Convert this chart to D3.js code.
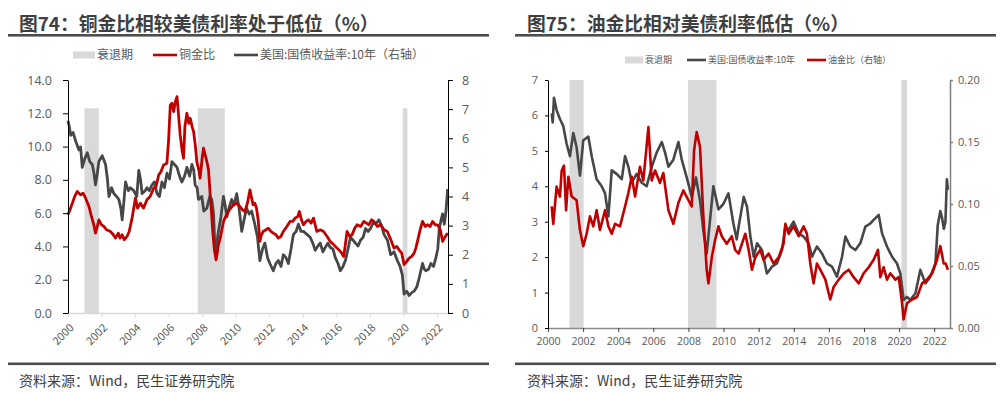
<!DOCTYPE html>
<html>
<head>
<meta charset="utf-8">
<script src="https://cdn.jsdelivr.net/npm/d3@7"></script>
<style>
  body { margin: 0; background: #fff; }
  svg { display: block; }
  text { font-family: "Noto Sans CJK SC", "Noto Sans", sans-serif; }
  .num text { font-family: "Open Sans", "Liberation Sans", sans-serif; }
</style>
</head>
<body>
<svg id="chart" width="1006" height="393"></svg>
<script>
// ---------- data: chart 74 ----------
const title74 = "图74：铜金比相较美债利率处于低位（%）";
const legend74 = ["衰退期", "铜金比", "美国:国债收益率:10年（右轴）"];
const recession74 = [[2000.98, 2001.84], [2007.74, 2009.35], [2019.96, 2020.24]];
const recessionTop74 = 12.3;   // left axis units
const yearTicks = [2000, 2002, 2004, 2006, 2008, 2010, 2012, 2014, 2016, 2018, 2020, 2022];

// copper / gold ratio (left axis)
const copperGold = [
  [2000.0, 5.9], [2000.12, 6.2], [2000.26, 6.6], [2000.4, 7.0], [2000.55, 7.3], [2000.75, 7.1],
  [2000.9, 7.2], [2001.05, 6.9], [2001.25, 6.4], [2001.4, 5.8], [2001.54, 5.3], [2001.64, 4.8],
  [2001.75, 5.2], [2001.84, 5.6], [2002.0, 5.3], [2002.14, 5.2], [2002.3, 5.0], [2002.53, 4.9],
  [2002.7, 4.7], [2002.83, 4.5], [2003.0, 4.8], [2003.1, 4.5], [2003.23, 4.7], [2003.35, 4.4],
  [2003.52, 4.6], [2003.65, 4.9], [2003.82, 5.7], [2004.02, 6.9], [2004.15, 6.3], [2004.32, 6.6],
  [2004.5, 6.3], [2004.71, 6.8], [2004.9, 7.0], [2005.11, 7.5], [2005.25, 7.6], [2005.41, 8.3],
  [2005.55, 8.5], [2005.7, 8.9], [2005.9, 9.0], [2006.0, 10.4], [2006.1, 12.5], [2006.2, 12.6],
  [2006.3, 12.1], [2006.4, 12.7], [2006.5, 13.0], [2006.6, 11.8], [2006.69, 10.7], [2006.8, 9.8],
  [2006.89, 9.3], [2006.97, 11.2], [2007.09, 12.0], [2007.2, 11.4], [2007.29, 11.7], [2007.4, 11.2],
  [2007.49, 10.9], [2007.6, 10.0], [2007.68, 9.1], [2007.8, 8.6], [2007.88, 8.1], [2008.0, 9.3],
  [2008.08, 9.9], [2008.18, 9.5], [2008.28, 9.1], [2008.38, 8.6], [2008.48, 7.1], [2008.56, 6.0],
  [2008.63, 4.9], [2008.73, 3.8], [2008.83, 3.2], [2008.9, 3.6], [2008.97, 4.1], [2009.1, 4.6],
  [2009.27, 5.5], [2009.4, 5.8], [2009.56, 6.1], [2009.7, 6.3], [2009.86, 6.5], [2010.05, 6.6],
  [2010.26, 6.4], [2010.4, 6.2], [2010.55, 6.1], [2010.7, 6.6], [2010.85, 7.4], [2010.95, 6.9],
  [2011.04, 6.5], [2011.14, 6.6], [2011.24, 6.3], [2011.34, 5.6], [2011.44, 4.3], [2011.54, 4.7],
  [2011.64, 4.9], [2011.8, 5.0], [2011.94, 5.1], [2012.1, 4.9], [2012.24, 4.8], [2012.4, 4.7],
  [2012.54, 4.5], [2012.7, 4.6], [2012.84, 4.9], [2013.05, 5.2], [2013.24, 5.5], [2013.4, 5.5],
  [2013.54, 5.7], [2013.7, 5.8], [2013.8, 6.1], [2013.92, 5.6], [2014.04, 5.3], [2014.2, 5.5],
  [2014.34, 5.6], [2014.5, 5.4], [2014.64, 5.7], [2014.74, 5.3], [2014.84, 4.9], [2015.05, 5.0],
  [2015.24, 4.9], [2015.45, 4.6], [2015.64, 4.3], [2015.85, 4.1], [2016.04, 3.9], [2016.25, 3.7],
  [2016.44, 3.4], [2016.55, 4.2], [2016.64, 4.9], [2016.8, 4.6], [2016.94, 4.7], [2017.1, 5.1],
  [2017.24, 5.3], [2017.45, 5.2], [2017.64, 5.5], [2017.8, 5.4], [2017.94, 5.3], [2018.1, 5.6],
  [2018.24, 5.5], [2018.45, 5.2], [2018.64, 5.3], [2018.85, 5.0], [2019.04, 4.9], [2019.25, 4.4],
  [2019.44, 3.9], [2019.6, 4.0], [2019.74, 3.8], [2019.9, 3.6], [2020.04, 2.9], [2020.2, 3.1],
  [2020.34, 3.3], [2020.5, 3.4], [2020.64, 3.6], [2020.74, 3.9], [2020.84, 4.3], [2021.0, 5.0],
  [2021.14, 5.5], [2021.3, 5.2], [2021.44, 5.3], [2021.6, 5.2], [2021.74, 5.5], [2021.9, 5.3],
  [2022.04, 5.3], [2022.2, 5.0], [2022.34, 4.3], [2022.5, 4.6], [2022.64, 4.8]
];

// US 10y treasury yield (right axis)
const ust10y74 = [
  [2000.0, 6.6], [2000.08, 6.4], [2000.16, 6.1], [2000.3, 6.2], [2000.46, 5.9], [2000.65, 5.6],
  [2000.75, 5.7], [2000.85, 5.0], [2001.0, 5.3], [2001.15, 5.5], [2001.3, 5.2], [2001.45, 5.1],
  [2001.55, 4.8], [2001.64, 4.4], [2001.75, 4.8], [2001.84, 5.2], [2002.04, 5.4], [2002.24, 5.1],
  [2002.35, 4.6], [2002.44, 4.0], [2002.6, 4.3], [2002.73, 4.1], [2002.9, 4.0], [2003.03, 3.9],
  [2003.15, 3.6], [2003.23, 3.2], [2003.33, 3.8], [2003.43, 4.5], [2003.6, 4.2], [2003.72, 4.3],
  [2003.92, 4.2], [2004.1, 4.0], [2004.22, 4.9], [2004.32, 4.6], [2004.42, 4.1], [2004.6, 4.2],
  [2004.71, 4.3], [2004.85, 4.2], [2005.01, 4.4], [2005.15, 4.5], [2005.31, 4.1], [2005.45, 4.0],
  [2005.6, 4.5], [2005.75, 4.3], [2005.9, 4.8], [2006.05, 4.6], [2006.2, 5.2], [2006.35, 5.1],
  [2006.5, 5.0], [2006.65, 4.7], [2006.79, 4.5], [2006.95, 4.7], [2007.09, 5.0], [2007.25, 4.7],
  [2007.39, 5.1], [2007.5, 4.9], [2007.58, 4.4], [2007.7, 4.3], [2007.78, 3.9], [2007.98, 4.0],
  [2008.1, 3.5], [2008.28, 3.6], [2008.45, 4.0], [2008.57, 3.9], [2008.68, 3.4], [2008.77, 2.1],
  [2008.87, 2.4], [2008.97, 2.8], [2009.12, 3.3], [2009.27, 4.0], [2009.37, 3.7], [2009.47, 3.3],
  [2009.6, 3.6], [2009.76, 3.9], [2009.9, 3.7], [2010.06, 4.1], [2010.2, 3.6], [2010.36, 2.8],
  [2010.5, 3.2], [2010.65, 3.6], [2010.8, 3.4], [2010.95, 3.5], [2011.14, 3.05], [2011.3, 2.6],
  [2011.44, 1.8], [2011.6, 2.2], [2011.74, 2.4], [2011.9, 1.9], [2012.04, 1.7], [2012.24, 1.45],
  [2012.4, 1.7], [2012.54, 1.8], [2012.7, 1.6], [2012.84, 2.0], [2013.0, 1.9], [2013.14, 1.7],
  [2013.3, 2.2], [2013.44, 2.7], [2013.6, 2.8], [2013.74, 3.05], [2013.9, 2.8], [2014.04, 2.8],
  [2014.25, 2.7], [2014.44, 2.6], [2014.6, 2.4], [2014.74, 2.15], [2014.9, 2.3], [2015.04, 2.4],
  [2015.2, 2.1], [2015.34, 2.25], [2015.5, 2.4], [2015.64, 2.25], [2015.8, 2.2], [2015.94, 1.9],
  [2016.1, 1.7], [2016.24, 1.45], [2016.4, 1.6], [2016.54, 1.8], [2016.7, 2.2], [2016.84, 2.6],
  [2017.0, 2.5], [2017.14, 2.4], [2017.3, 2.3], [2017.44, 2.5], [2017.6, 2.6], [2017.74, 2.9],
  [2017.9, 2.8], [2018.04, 2.9], [2018.2, 3.1], [2018.34, 3.05], [2018.54, 3.2], [2018.7, 3.0],
  [2018.84, 2.7], [2019.05, 2.5], [2019.24, 2.0], [2019.44, 2.1], [2019.64, 1.8], [2019.8, 1.6],
  [2019.94, 1.3], [2020.04, 0.65], [2020.2, 0.75], [2020.34, 0.6], [2020.5, 0.7], [2020.64, 0.75],
  [2020.8, 0.9], [2020.94, 1.2], [2021.14, 1.7], [2021.25, 1.5], [2021.34, 1.45], [2021.5, 1.5],
  [2021.64, 1.7], [2021.8, 1.6], [2021.94, 1.9], [2022.05, 2.2], [2022.14, 2.9], [2022.25, 3.2],
  [2022.34, 3.4], [2022.44, 3.05], [2022.54, 3.5], [2022.64, 4.25]
];

// ---------- data: chart 75 ----------
const title75 = "图75：油金比相对美债利率低估（%）";
const legend75 = ["衰退期", "美国:国债收益率:10年", "油金比（右轴）"];
const recession75 = [[2001.22, 2002.03], [2007.98, 2009.59], [2020.13, 2020.45]];

// US 10y treasury yield (left axis)
const ust10y75 = [
  [2000.21, 6.06], [2000.27, 5.8], [2000.34, 6.5], [2000.49, 6.15], [2000.68, 5.9], [2000.87, 5.7],
  [2001.06, 5.2], [2001.25, 4.85], [2001.44, 5.5], [2001.63, 5.1], [2001.82, 4.3], [2002.01, 5.3],
  [2002.3, 5.4], [2002.49, 4.85], [2002.77, 4.2], [2003.06, 4.0], [2003.25, 3.8], [2003.44, 3.15],
  [2003.63, 4.45], [2003.91, 4.35], [2004.2, 4.2], [2004.39, 4.85], [2004.58, 4.55], [2004.77, 4.1],
  [2005.05, 4.35], [2005.34, 4.1], [2005.62, 4.0], [2005.91, 4.55], [2006.19, 4.95], [2006.48, 5.25],
  [2006.67, 4.95], [2006.86, 4.55], [2007.14, 4.75], [2007.43, 5.25], [2007.62, 4.75], [2007.9, 4.25],
  [2008.19, 3.7], [2008.43, 4.25], [2008.66, 3.6], [2008.85, 2.75], [2009.04, 2.1], [2009.23, 3.05],
  [2009.42, 4.0], [2009.71, 3.35], [2009.99, 3.5], [2010.28, 3.8], [2010.56, 2.95], [2010.75, 2.5],
  [2010.86, 2.86], [2011.15, 3.7], [2011.34, 3.42], [2011.53, 2.58], [2011.72, 2.01], [2011.91, 2.39],
  [2012.19, 2.2], [2012.47, 1.54], [2012.76, 1.73], [2013.04, 1.82], [2013.33, 2.2], [2013.52, 2.86],
  [2013.71, 2.77], [2013.99, 3.0], [2014.28, 2.67], [2014.56, 2.58], [2014.85, 2.39], [2015.04, 2.01],
  [2015.32, 2.3], [2015.61, 2.1], [2015.89, 1.82], [2016.18, 1.73], [2016.46, 1.45], [2016.75, 2.01],
  [2016.94, 2.58], [2017.22, 2.3], [2017.51, 2.2], [2017.79, 2.39], [2018.08, 2.86], [2018.36, 2.95],
  [2018.55, 3.05], [2018.84, 3.19], [2019.03, 2.67], [2019.31, 2.3], [2019.6, 2.01], [2019.88, 1.82],
  [2020.07, 1.54], [2020.26, 0.79], [2020.45, 0.88], [2020.64, 0.79], [2020.93, 0.98], [2021.21, 1.64],
  [2021.5, 1.26], [2021.78, 1.45], [2022.07, 1.82], [2022.2, 2.9], [2022.35, 3.3], [2022.45, 3.1],
  [2022.55, 2.8], [2022.64, 3.0], [2022.72, 4.2], [2022.78, 3.9]
];

// oil / gold ratio (right axis)
const oilGold = [
  [2000.21, 0.098], [2000.3, 0.084], [2000.49, 0.114], [2000.68, 0.106], [2000.78, 0.127], [2000.91, 0.131],
  [2001.03, 0.095], [2001.16, 0.122], [2001.35, 0.106], [2001.63, 0.103], [2001.82, 0.079], [2002.01, 0.066],
  [2002.2, 0.076], [2002.39, 0.09], [2002.58, 0.082], [2002.77, 0.095], [2002.96, 0.079], [2003.25, 0.095],
  [2003.44, 0.082], [2003.63, 0.076], [2003.82, 0.084], [2004.1, 0.082], [2004.39, 0.098], [2004.58, 0.109],
  [2004.77, 0.122], [2004.96, 0.106], [2005.24, 0.13], [2005.43, 0.119], [2005.58, 0.141], [2005.72, 0.162],
  [2005.91, 0.119], [2006.1, 0.127], [2006.38, 0.117], [2006.57, 0.125], [2006.86, 0.095], [2007.14, 0.084],
  [2007.43, 0.101], [2007.71, 0.111], [2008.0, 0.103], [2008.19, 0.098], [2008.32, 0.143], [2008.47, 0.158],
  [2008.66, 0.146], [2008.85, 0.09], [2009.04, 0.047], [2009.14, 0.036], [2009.33, 0.057], [2009.52, 0.071],
  [2009.71, 0.082], [2009.9, 0.074], [2010.18, 0.068], [2010.47, 0.074], [2010.66, 0.063], [2010.86, 0.06],
  [2011.05, 0.068], [2011.24, 0.076], [2011.43, 0.063], [2011.62, 0.047], [2011.81, 0.057], [2012.09, 0.063],
  [2012.28, 0.055], [2012.57, 0.06], [2012.85, 0.052], [2013.14, 0.057], [2013.42, 0.068], [2013.52, 0.084],
  [2013.71, 0.076], [2013.99, 0.082], [2014.28, 0.074], [2014.56, 0.082], [2014.75, 0.076], [2014.94, 0.052],
  [2015.13, 0.036], [2015.32, 0.052], [2015.51, 0.047], [2015.8, 0.039], [2016.08, 0.023], [2016.27, 0.033],
  [2016.56, 0.039], [2016.84, 0.044], [2017.13, 0.047], [2017.41, 0.041], [2017.7, 0.036], [2017.98, 0.044],
  [2018.27, 0.049], [2018.55, 0.055], [2018.8, 0.063], [2018.93, 0.041], [2019.12, 0.049], [2019.31, 0.039],
  [2019.5, 0.044], [2019.79, 0.039], [2019.98, 0.041], [2020.17, 0.02], [2020.26, 0.007], [2020.45, 0.02],
  [2020.74, 0.023], [2021.02, 0.025], [2021.31, 0.036], [2021.59, 0.039], [2021.88, 0.044], [2022.16, 0.055],
  [2022.35, 0.066], [2022.54, 0.052], [2022.65, 0.052], [2022.78, 0.047]
];

const source = "资料来源：Wind，民生证券研究院";

const RED = "#c00000";
const DARK = "#474747";
const BAND = "#d9d9d9";
const TXT = "#595959";

const svg = d3.select("#chart");

function header(x0, x1, tx, title) {
  svg.append("text").attr("x", tx).attr("y", 31)
    .attr("font-size", 18.8).attr("font-weight", "bold").attr("fill", "#3f3f3f")
    .text(title);
  svg.append("rect").attr("x", x0).attr("y", 34).attr("width", x1 - x0).attr("height", 2.6).attr("fill", "#4d4d4d");
  svg.append("rect").attr("x", x0).attr("y", 362.5).attr("width", x1 - x0).attr("height", 2.6).attr("fill", "#4d4d4d");
  svg.append("text").attr("x", tx).attr("y", 386)
    .attr("font-size", 14).attr("fill", "#404040")
    .text(source);
}

function legendItem(g, kind, x, y, w, label, fs) {
  if (kind === "band") {
    g.append("rect").attr("x", x).attr("y", y - 3.5).attr("width", w).attr("height", 7).attr("fill", BAND);
  } else {
    g.append("line").attr("x1", x).attr("x2", x + w).attr("y1", y).attr("y2", y)
      .attr("stroke", kind).attr("stroke-width", 2.6);
  }
  g.append("text").attr("x", x + w + 2).attr("y", y).attr("dy", "0.35em")
    .attr("font-size", fs).attr("fill", TXT).text(label);
}

// ================= chart 74 =================
header(8, 489, 19, title74);
{
  const x = d3.scaleLinear().domain([2000, 2022.66]).range([68, 448]);
  const yL = d3.scaleLinear().domain([0, 14]).range([313, 80]);
  const yR = d3.scaleLinear().domain([0, 8]).range([313, 80]);
  const g = svg.append("g");

  g.selectAll("rect.band").data(recession74).join("rect").attr("class", "band")
    .attr("x", d => x(d[0])).attr("width", d => x(d[1]) - x(d[0]))
    .attr("y", yL(recessionTop74)).attr("height", yL(0) - yL(recessionTop74))
    .attr("fill", BAND);

  const xAxis = g.append("g").attr("transform", "translate(0,313)")
    .call(d3.axisBottom(x).tickValues(yearTicks).tickSize(4).tickSizeOuter(0).tickFormat(""));
  xAxis.select(".domain").attr("stroke", "#d9d9d9").attr("stroke-width", 1.5);
  xAxis.selectAll(".tick line").attr("stroke", "#d9d9d9");
  g.selectAll("text.xl").data(yearTicks).join("text").attr("class", "xl")
    .attr("transform", d => `translate(${x(d) + 1},${323}) rotate(-45)`)
    .attr("text-anchor", "end").attr("dy", "0.7em")
    .attr("font-family", "'Open Sans', sans-serif")
    .attr("font-size", 11).attr("fill", TXT).text(d => d);

  const line = (ys) => d3.line().x(d => x(d[0])).y(d => ys(d[1]));
  g.append("path").datum(ust10y74).attr("d", line(yR))
    .attr("fill", "none").attr("stroke", DARK).attr("stroke-width", 2.8).attr("stroke-linejoin", "round");
  g.append("path").datum(copperGold).attr("d", line(yL))
    .attr("fill", "none").attr("stroke", RED).attr("stroke-width", 2.8).attr("stroke-linejoin", "round");

  const la = g.append("g").attr("class", "num").attr("transform", "translate(68,0)")
    .call(d3.axisLeft(yL).tickValues(d3.range(0, 15, 2)).tickFormat(d3.format(".1f"))
      .tickSize(5).tickSizeOuter(0).tickPadding(11));
  la.selectAll("text").attr("font-size", 12.5).attr("fill", TXT);
  la.selectAll("line, path").attr("stroke", "#000");

  const ra = g.append("g").attr("class", "num").attr("transform", "translate(448,0)")
    .call(d3.axisRight(yR).tickValues(d3.range(0, 9)).tickFormat(d3.format("d"))
      .tickSize(5).tickSizeOuter(0).tickPadding(9));
  ra.selectAll("text").attr("font-size", 12.5).attr("fill", TXT);
  ra.selectAll("line, path").attr("stroke", "#000");

  const lg = svg.append("g");
  legendItem(lg, "band", 73, 55, 22, legend74[0], 12);
  legendItem(lg, RED, 153, 55, 24, legend74[1], 12);
  legendItem(lg, DARK, 234, 55, 24, legend74[2], 12);
}

// ================= chart 75 =================
header(515, 996, 527, title75);
{
  const x = d3.scaleLinear().domain([2000, 2022.9]).range([548, 950]);
  const yL = d3.scaleLinear().domain([0, 7]).range([328, 80]);
  const yR = d3.scaleLinear().domain([0, 0.2]).range([328, 80]);
  const g = svg.append("g");

  g.selectAll("rect.band").data(recession75).join("rect").attr("class", "band")
    .attr("x", d => x(d[0])).attr("width", d => x(d[1]) - x(d[0]))
    .attr("y", yL(7)).attr("height", yL(0) - yL(7))
    .attr("fill", BAND);

  const line = (ys) => d3.line().x(d => x(d[0])).y(d => ys(d[1]));
  g.append("path").datum(ust10y75).attr("d", line(yL))
    .attr("fill", "none").attr("stroke", DARK).attr("stroke-width", 2.6).attr("stroke-linejoin", "round");
  g.append("path").datum(oilGold).attr("d", line(yR))
    .attr("fill", "none").attr("stroke", RED).attr("stroke-width", 2.6).attr("stroke-linejoin", "round");

  const xa = g.append("g").attr("class", "num").attr("transform", "translate(0,328)")
    .call(d3.axisBottom(x).tickValues(yearTicks).tickFormat(d3.format("d"))
      .tickSize(4).tickSizeOuter(0).tickPadding(6));
  xa.selectAll("text").attr("font-size", 10.5).attr("fill", TXT);
  xa.select(".domain").attr("stroke", "#8c8c8c").attr("stroke-width", 1.5);
  xa.selectAll(".tick line").attr("stroke", "#404040");

  const la = g.append("g").attr("class", "num").attr("transform", "translate(548,0)")
    .call(d3.axisLeft(yL).tickValues(d3.range(0, 8)).tickFormat(d3.format("d"))
      .tickSize(3).tickSizeOuter(0).tickPadding(7));
  la.selectAll("text").attr("font-size", 11).attr("fill", TXT);
  la.selectAll("line, path").attr("stroke", "#000");

  const ra = g.append("g").attr("class", "num").attr("transform", "translate(950,0)")
    .call(d3.axisRight(yR).tickValues([0, 0.05, 0.1, 0.15, 0.2]).tickFormat(d3.format(".2f"))
      .tickSize(3).tickSizeOuter(0).tickPadding(5));
  ra.selectAll("text").attr("font-size", 11).attr("fill", TXT);
  ra.selectAll("line, path").attr("stroke", "#7f7f7f").attr("stroke-width", 1.5);

  const lg = svg.append("g");
  legendItem(lg, "band", 625, 60, 18, legend75[0], 9);
  legendItem(lg, DARK, 687, 60, 19, legend75[1], 9);
  legendItem(lg, RED, 807, 60, 19, legend75[2], 9);
}
</script>
</body>
</html>
